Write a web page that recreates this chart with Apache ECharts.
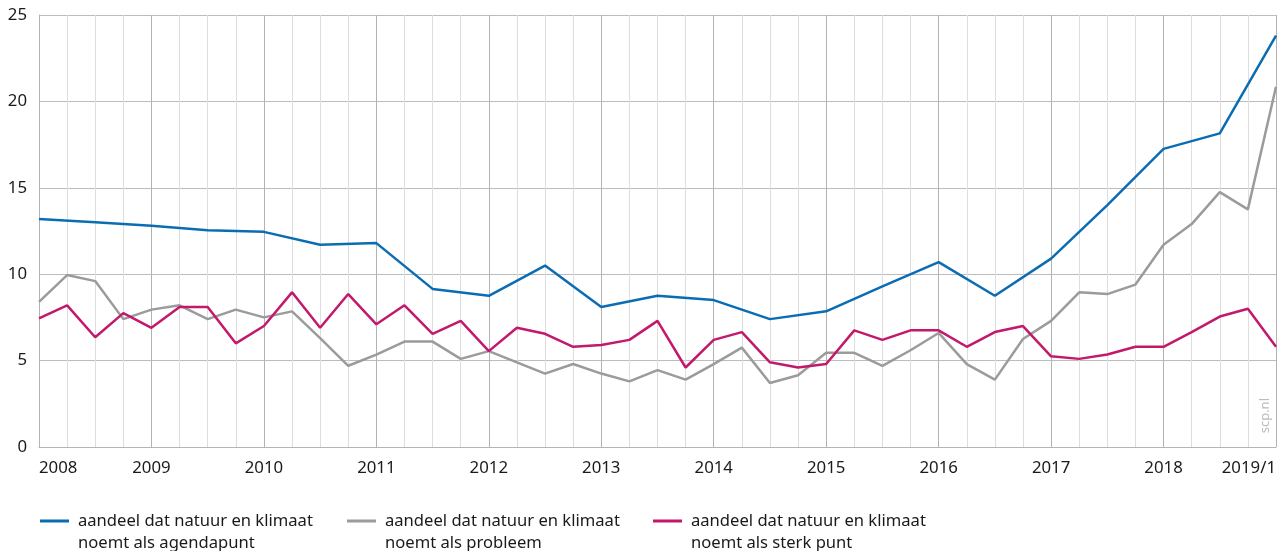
<!DOCTYPE html>
<html>
<head>
<meta charset="utf-8">
<script src="https://cdn.jsdelivr.net/npm/echarts@6/dist/echarts.min.js"></script>
<style>
  html, body { margin: 0; padding: 0; background: #fff; }
  #chart { width: 1280px; height: 551px; }
</style>
</head>
<body>
<div id="chart"></div>
<script>
// kwartalen 2008/1 t/m 2019/1
const quarters = [
  '2008/1', '2008/2', '2008/3', '2008/4',
  '2009/1', '2009/2', '2009/3', '2009/4',
  '2010/1', '2010/2', '2010/3', '2010/4',
  '2011/1', '2011/2', '2011/3', '2011/4',
  '2012/1', '2012/2', '2012/3', '2012/4',
  '2013/1', '2013/2', '2013/3', '2013/4',
  '2014/1', '2014/2', '2014/3', '2014/4',
  '2015/1', '2015/2', '2015/3', '2015/4',
  '2016/1', '2016/2', '2016/3', '2016/4',
  '2017/1', '2017/2', '2017/3', '2017/4',
  '2018/1', '2018/2', '2018/3', '2018/4',
  '2019/1'
];

// as-labels: alleen bij het eerste kwartaal van elk jaar
const yearLabels = {
  '2008/1': '2008', '2009/1': '2009', '2010/1': '2010', '2011/1': '2011',
  '2012/1': '2012', '2013/1': '2013', '2014/1': '2014', '2015/1': '2015',
  '2016/1': '2016', '2017/1': '2017', '2018/1': '2018', '2019/1': '2019/1'
};

const yTicks = [0, 5, 10, 15, 20, 25];

const seriesNames = [
  'aandeel dat natuur en klimaat\nnoemt als agendapunt',
  'aandeel dat natuur en klimaat\nnoemt als probleem',
  'aandeel dat natuur en klimaat\nnoemt als sterk punt'
];

// agendapunt: halfjaarlijks gemeten (null = geen meting)
const agendapunt = [
  13.2, null, 13.0, null,
  12.8, null, 12.55, null,
  12.45, null, 11.7, null,
  11.8, null, 9.15, null,
  8.75, null, 10.5, null,
  8.1, null, 8.75, null,
  8.5, null, 7.4, null,
  7.85, null, 9.3, null,
  10.7, null, 8.75, null,
  10.9, null, 14.0, null,
  17.25, null, 18.15, null,
  23.8
];

const probleem = [
  8.4, 9.95, 9.6, 7.4,
  7.95, 8.2, 7.4, 7.95,
  7.5, 7.85, 6.3, 4.7,
  5.35, 6.1, 6.1, 5.1,
  5.55, 4.9, 4.25, 4.8,
  4.25, 3.8, 4.45, 3.9,
  4.8, 5.75, 3.7, 4.15,
  5.45, 5.45, 4.7, 5.6,
  6.6, 4.8, 3.9, 6.25,
  7.3, 8.95, 8.85, 9.4,
  11.7, 12.9, 14.75, 13.75,
  20.85
];

const sterkPunt = [
  7.45, 8.2, 6.35, 7.75,
  6.9, 8.1, 8.1, 6.0,
  7.0, 8.95, 6.9, 8.85,
  7.1, 8.2, 6.55, 7.3,
  5.55, 6.9, 6.55, 5.8,
  5.9, 6.2, 7.3, 4.6,
  6.2, 6.65, 4.9, 4.6,
  4.8, 6.75, 6.2, 6.75,
  6.75, 5.8, 6.65, 7.0,
  5.25, 5.1, 5.35, 5.8,
  5.8, 6.65, 7.55, 8.0,
  5.8
];

const colors = ['#0a6db4', '#9b9b9b', '#c2196c'];
const font = 'Noto Sans';

const chart = echarts.init(document.getElementById('chart'), null, { renderer: 'canvas' });

// lijn-icoon (29 breed) bovenaan een vak van 33x25, zodat het bij de eerste tekstregel staat
const lineIcon = 'path://M0,0H29V3H0Z M33,25H33.001V25.001H33Z';

function legendAt(left, idx) {
  return {
    data: [seriesNames[idx]],
    left: left,
    top: 510,
    padding: 0,
    itemWidth: 33,
    itemHeight: 25,
    itemGap: 0,
    icon: lineIcon,
    textStyle: {
      fontFamily: font,
      fontSize: 16.6,
      color: '#1a1a1a',
      lineHeight: 22
    }
  };
}

chart.setOption({
  animation: false,
  color: colors,
  grid: { left: 39, right: 4, top: 15, bottom: 104, containLabel: false },
  legend: [legendAt(40, 0), legendAt(347, 1), legendAt(653, 2)],
  xAxis: {
    type: 'category',
    data: quarters,
    boundaryGap: false,
    axisLine: { show: true, lineStyle: { color: '#b4b4b4', width: 1 } },
    axisTick: { show: false },
    axisLabel: {
      interval: 0,
      margin: 13,
      fontFamily: font,
      fontSize: 16.8,
      color: '#1a1a1a',
      alignMinLabel: 'left',
      alignMaxLabel: 'right',
      formatter: function (v) { return yearLabels[v] || ''; }
    },
    splitLine: {
      show: true,
      interval: 0,
      lineStyle: { color: ['#b2b2b2', '#dedede', '#dedede', '#dedede'], width: 1 }
    }
  },
  yAxis: {
    type: 'value',
    min: yTicks[0],
    max: yTicks[yTicks.length - 1],
    interval: 5,
    axisLine: { show: true, lineStyle: { color: '#b4b4b4', width: 1 } },
    axisTick: { show: false },
    axisLabel: {
      margin: 12,
      fontFamily: font,
      fontSize: 16.8,
      color: '#1a1a1a'
    },
    splitLine: { show: true, lineStyle: { color: '#bcbcbc', width: 1 } }
  },
  graphic: [{
    type: 'text',
    left: 1259,
    top: 398,
    rotation: Math.PI / 2,
    style: { text: 'scp.nl', font: '13px "Noto Sans"', fill: '#bdbdbd' }
  }],
  series: [
    { name: seriesNames[0], type: 'line', data: agendapunt, connectNulls: true,
      showSymbol: false, lineStyle: { width: 2.5 } },
    { name: seriesNames[1], type: 'line', data: probleem,
      showSymbol: false, lineStyle: { width: 2.5 } },
    { name: seriesNames[2], type: 'line', data: sterkPunt,
      showSymbol: false, lineStyle: { width: 2.5 } }
  ]
});
</script>
</body>
</html>
